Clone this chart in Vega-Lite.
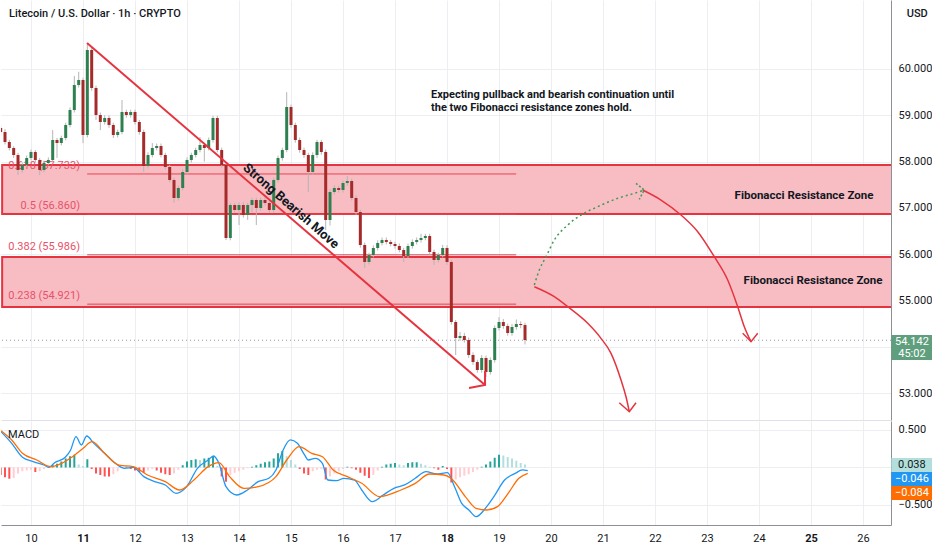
{
  "$schema": "https://vega.github.io/schema/vega-lite/v6.json",
  "padding": 0,
  "background": "#ffffff",
  "spacing": 1,
  "config": {
    "view": {"stroke": null},
    "font": "Roboto",
    "axis": {"labelFont": "Roboto", "labelFontSize": 11, "labelColor": "#131722", "gridColor": "#eceef2", "ticks": false, "titleFont": "Roboto"}
  },
  "datasets": {
    "candles": [
      {"t":9.417,"o":58.725,"h":58.78,"l":58.58,"c":58.639,"m":-0.10,"mc":"r"},
      {"t":9.5,"o":58.639,"h":58.70,"l":58.37,"c":58.423,"m":-0.13,"mc":"r"},
      {"t":9.583,"o":58.423,"h":58.47,"l":58.24,"c":58.293,"m":-0.15,"mc":"r"},
      {"t":9.667,"o":58.293,"h":58.33,"l":58.08,"c":58.142,"m":-0.14,"mc":"lr"},
      {"t":9.75,"o":58.142,"h":58.19,"l":57.71,"c":57.818,"m":-0.08,"mc":"lr"},
      {"t":9.833,"o":57.818,"h":57.98,"l":57.76,"c":57.926,"m":-0.05,"mc":"lr"},
      {"t":9.917,"o":57.926,"h":58.13,"l":57.88,"c":58.077,"m":-0.04,"mc":"lr"},
      {"t":10,"o":58.077,"h":58.26,"l":58.03,"c":58.207,"m":-0.03,"mc":"lr"},
      {"t":10.083,"o":58.207,"h":58.25,"l":57.98,"c":58.034,"m":-0.06,"mc":"r"},
      {"t":10.167,"o":58.034,"h":58.08,"l":57.71,"c":57.818,"m":-0.05,"mc":"lr"},
      {"t":10.25,"o":57.818,"h":58.02,"l":57.77,"c":57.970,"m":-0.02,"mc":"lr"},
      {"t":10.333,"o":57.970,"h":58.09,"l":57.92,"c":58.034,"m":0.01,"mc":"g"},
      {"t":10.417,"o":58.034,"h":58.68,"l":57.99,"c":58.466,"m":0.03,"mc":"g"},
      {"t":10.5,"o":58.466,"h":58.51,"l":58.08,"c":58.401,"m":0.05,"mc":"g"},
      {"t":10.583,"o":58.401,"h":58.56,"l":58.35,"c":58.510,"m":0.08,"mc":"g"},
      {"t":10.667,"o":58.510,"h":58.84,"l":58.46,"c":58.790,"m":0.12,"mc":"g"},
      {"t":10.75,"o":58.790,"h":59.17,"l":58.74,"c":59.114,"m":0.15,"mc":"g"},
      {"t":10.833,"o":59.114,"h":59.85,"l":59.06,"c":59.654,"m":0.17,"mc":"g"},
      {"t":10.917,"o":59.654,"h":59.94,"l":59.60,"c":59.762,"m":0.04,"mc":"lg"},
      {"t":11,"o":59.762,"h":59.81,"l":58.40,"c":58.574,"m":0.02,"mc":"lg"},
      {"t":11.083,"o":58.574,"h":60.56,"l":58.52,"c":60.410,"m":0.11,"mc":"g"},
      {"t":11.167,"o":60.410,"h":60.45,"l":59.53,"c":59.589,"m":-0.02,"mc":"r"},
      {"t":11.25,"o":59.589,"h":59.64,"l":58.90,"c":59.006,"m":-0.08,"mc":"r"},
      {"t":11.333,"o":59.006,"h":59.06,"l":58.68,"c":58.855,"m":-0.10,"mc":"r"},
      {"t":11.417,"o":58.855,"h":59.00,"l":58.80,"c":58.941,"m":-0.12,"mc":"r"},
      {"t":11.5,"o":58.941,"h":59.00,"l":58.73,"c":58.790,"m":-0.12,"mc":"r"},
      {"t":11.583,"o":58.790,"h":58.84,"l":58.51,"c":58.574,"m":-0.09,"mc":"lr"},
      {"t":11.667,"o":58.574,"h":58.69,"l":58.52,"c":58.639,"m":-0.05,"mc":"lr"},
      {"t":11.75,"o":58.639,"h":59.33,"l":58.59,"c":59.071,"m":-0.01,"mc":"lr"},
      {"t":11.833,"o":59.071,"h":59.12,"l":58.95,"c":59.006,"m":0.01,"mc":"g"},
      {"t":11.917,"o":59.006,"h":59.12,"l":58.95,"c":59.071,"m":-0.02,"mc":"r"},
      {"t":12,"o":59.071,"h":59.12,"l":58.80,"c":58.855,"m":-0.04,"mc":"r"},
      {"t":12.083,"o":58.855,"h":58.90,"l":58.58,"c":58.639,"m":-0.06,"mc":"r"},
      {"t":12.167,"o":58.639,"h":58.69,"l":57.78,"c":57.905,"m":-0.07,"mc":"r"},
      {"t":12.25,"o":57.905,"h":58.20,"l":57.85,"c":58.142,"m":-0.04,"mc":"lr"},
      {"t":12.333,"o":58.142,"h":58.40,"l":58.09,"c":58.293,"m":-0.02,"mc":"lr"},
      {"t":12.417,"o":58.293,"h":58.39,"l":58.24,"c":58.337,"m":-0.04,"mc":"r"},
      {"t":12.5,"o":58.337,"h":58.39,"l":58.09,"c":58.142,"m":-0.07,"mc":"r"},
      {"t":12.583,"o":58.142,"h":58.19,"l":57.83,"c":57.883,"m":-0.09,"mc":"r"},
      {"t":12.667,"o":57.883,"h":57.93,"l":57.55,"c":57.602,"m":-0.10,"mc":"r"},
      {"t":12.75,"o":57.602,"h":57.65,"l":57.11,"c":57.214,"m":-0.08,"mc":"lr"},
      {"t":12.833,"o":57.214,"h":57.48,"l":57.16,"c":57.430,"m":-0.03,"mc":"lr"},
      {"t":12.917,"o":57.430,"h":57.83,"l":57.38,"c":57.775,"m":0.03,"mc":"g"},
      {"t":13,"o":57.775,"h":58.09,"l":57.72,"c":58.034,"m":0.08,"mc":"g"},
      {"t":13.083,"o":58.034,"h":58.19,"l":57.98,"c":58.142,"m":0.10,"mc":"g"},
      {"t":13.167,"o":58.142,"h":58.30,"l":58.09,"c":58.250,"m":0.11,"mc":"g"},
      {"t":13.25,"o":58.250,"h":58.53,"l":58.20,"c":58.358,"m":0.10,"mc":"lg"},
      {"t":13.333,"o":58.358,"h":58.41,"l":58.00,"c":58.293,"m":0.12,"mc":"g"},
      {"t":13.417,"o":58.293,"h":58.52,"l":58.24,"c":58.466,"m":0.13,"mc":"g"},
      {"t":13.5,"o":58.466,"h":58.99,"l":58.41,"c":58.941,"m":0.15,"mc":"g"},
      {"t":13.583,"o":58.941,"h":58.99,"l":58.20,"c":58.250,"m":0.02,"mc":"lg"},
      {"t":13.667,"o":58.250,"h":58.30,"l":57.87,"c":57.926,"m":-0.12,"mc":"r"},
      {"t":13.75,"o":57.926,"h":57.98,"l":56.306,"c":56.350,"m":-0.19,"mc":"r"},
      {"t":13.833,"o":56.350,"h":57.11,"l":56.30,"c":57.062,"m":-0.10,"mc":"lr"},
      {"t":13.917,"o":57.062,"h":57.11,"l":56.90,"c":56.954,"m":-0.07,"mc":"lr"},
      {"t":14,"o":56.954,"h":57.12,"l":56.63,"c":57.062,"m":-0.05,"mc":"lr"},
      {"t":14.083,"o":57.062,"h":57.12,"l":56.79,"c":56.846,"m":-0.03,"mc":"lr"},
      {"t":14.167,"o":56.846,"h":57.11,"l":56.74,"c":57.062,"m":-0.01,"mc":"lr"},
      {"t":14.25,"o":57.062,"h":57.22,"l":56.90,"c":57.170,"m":0.01,"mc":"g"},
      {"t":14.333,"o":57.170,"h":57.22,"l":56.63,"c":56.998,"m":0.03,"mc":"g"},
      {"t":14.417,"o":56.998,"h":57.22,"l":56.94,"c":57.170,"m":0.05,"mc":"g"},
      {"t":14.5,"o":57.170,"h":57.28,"l":57.05,"c":57.106,"m":0.07,"mc":"g"},
      {"t":14.583,"o":57.106,"h":57.16,"l":56.89,"c":56.954,"m":0.08,"mc":"g"},
      {"t":14.667,"o":56.954,"h":57.65,"l":56.90,"c":57.602,"m":0.12,"mc":"g"},
      {"t":14.75,"o":57.602,"h":58.13,"l":57.55,"c":58.077,"m":0.19,"mc":"g"},
      {"t":14.833,"o":58.077,"h":58.30,"l":58.02,"c":58.250,"m":0.22,"mc":"g"},
      {"t":14.917,"o":58.250,"h":59.50,"l":58.20,"c":59.179,"m":0.15,"mc":"lg"},
      {"t":15,"o":59.179,"h":59.23,"l":58.73,"c":58.790,"m":0.10,"mc":"lg"},
      {"t":15.083,"o":58.790,"h":58.84,"l":58.41,"c":58.466,"m":0.04,"mc":"lg"},
      {"t":15.167,"o":58.466,"h":58.52,"l":58.19,"c":58.250,"m":-0.02,"mc":"r"},
      {"t":15.25,"o":58.250,"h":58.30,"l":58.08,"c":58.142,"m":-0.08,"mc":"r"},
      {"t":15.333,"o":58.142,"h":58.19,"l":57.34,"c":57.775,"m":-0.10,"mc":"r"},
      {"t":15.417,"o":57.775,"h":58.20,"l":57.72,"c":58.142,"m":-0.05,"mc":"lr"},
      {"t":15.5,"o":58.142,"h":58.47,"l":58.08,"c":58.423,"m":-0.03,"mc":"lr"},
      {"t":15.583,"o":58.423,"h":58.47,"l":58.15,"c":58.207,"m":-0.02,"mc":"lr"},
      {"t":15.667,"o":58.207,"h":58.26,"l":56.52,"c":56.738,"m":-0.16,"mc":"r"},
      {"t":15.75,"o":56.738,"h":57.40,"l":56.62,"c":57.343,"m":-0.12,"mc":"lr"},
      {"t":15.833,"o":57.343,"h":57.49,"l":57.29,"c":57.430,"m":-0.08,"mc":"lr"},
      {"t":15.917,"o":57.430,"h":57.48,"l":57.33,"c":57.386,"m":-0.05,"mc":"lr"},
      {"t":16,"o":57.386,"h":57.59,"l":57.33,"c":57.538,"m":-0.02,"mc":"lr"},
      {"t":16.083,"o":57.538,"h":57.69,"l":57.48,"c":57.581,"m":0.01,"mc":"g"},
      {"t":16.167,"o":57.581,"h":57.63,"l":57.16,"c":57.214,"m":-0.01,"mc":"r"},
      {"t":16.25,"o":57.214,"h":57.27,"l":56.85,"c":56.911,"m":-0.03,"mc":"r"},
      {"t":16.333,"o":56.911,"h":56.96,"l":56.14,"c":56.198,"m":-0.07,"mc":"r"},
      {"t":16.417,"o":56.198,"h":56.25,"l":55.702,"c":55.831,"m":-0.11,"mc":"r"},
      {"t":16.5,"o":55.831,"h":56.03,"l":55.78,"c":55.982,"m":-0.14,"mc":"r"},
      {"t":16.583,"o":55.982,"h":56.19,"l":55.93,"c":56.134,"m":-0.10,"mc":"lr"},
      {"t":16.667,"o":56.134,"h":56.30,"l":56.08,"c":56.242,"m":-0.04,"mc":"lr"},
      {"t":16.75,"o":56.242,"h":56.36,"l":56.19,"c":56.306,"m":0.01,"mc":"g"},
      {"t":16.833,"o":56.306,"h":56.36,"l":56.21,"c":56.263,"m":0.04,"mc":"g"},
      {"t":16.917,"o":56.263,"h":56.31,"l":56.17,"c":56.220,"m":0.05,"mc":"g"},
      {"t":17,"o":56.220,"h":56.27,"l":56.12,"c":56.177,"m":0.06,"mc":"g"},
      {"t":17.083,"o":56.177,"h":56.23,"l":56.04,"c":56.090,"m":0.04,"mc":"lg"},
      {"t":17.167,"o":56.090,"h":56.14,"l":55.83,"c":55.961,"m":0.03,"mc":"lg"},
      {"t":17.25,"o":55.961,"h":56.23,"l":55.91,"c":56.177,"m":0.06,"mc":"g"},
      {"t":17.333,"o":56.177,"h":56.32,"l":56.12,"c":56.263,"m":0.07,"mc":"g"},
      {"t":17.417,"o":56.263,"h":56.36,"l":56.21,"c":56.306,"m":0.07,"mc":"g"},
      {"t":17.5,"o":56.306,"h":56.44,"l":56.25,"c":56.350,"m":0.05,"mc":"lg"},
      {"t":17.583,"o":56.350,"h":56.44,"l":56.30,"c":56.393,"m":0.03,"mc":"lg"},
      {"t":17.667,"o":56.393,"h":56.44,"l":55.99,"c":56.047,"m":0.01,"mc":"lg"},
      {"t":17.75,"o":56.047,"h":56.10,"l":55.766,"c":55.874,"m":-0.01,"mc":"r"},
      {"t":17.833,"o":55.874,"h":56.03,"l":55.82,"c":55.982,"m":-0.03,"mc":"r"},
      {"t":17.917,"o":55.982,"h":56.20,"l":55.93,"c":56.134,"m":0.02,"mc":"g"},
      {"t":18,"o":56.134,"h":56.19,"l":55.77,"c":55.831,"m":-0.02,"mc":"r"},
      {"t":18.083,"o":55.831,"h":55.88,"l":54.48,"c":54.535,"m":-0.20,"mc":"r"},
      {"t":18.167,"o":54.535,"h":54.58,"l":53.823,"c":54.190,"m":-0.16,"mc":"lr"},
      {"t":18.25,"o":54.190,"h":54.32,"l":54.13,"c":54.233,"m":-0.13,"mc":"lr"},
      {"t":18.333,"o":54.233,"h":54.30,"l":54.09,"c":54.146,"m":-0.11,"mc":"lr"},
      {"t":18.417,"o":54.146,"h":54.20,"l":53.76,"c":53.823,"m":-0.09,"mc":"lr"},
      {"t":18.5,"o":53.823,"h":53.88,"l":53.61,"c":53.671,"m":-0.06,"mc":"lr"},
      {"t":18.583,"o":53.671,"h":53.72,"l":53.44,"c":53.499,"m":-0.03,"mc":"lr"},
      {"t":18.667,"o":53.499,"h":53.82,"l":53.44,"c":53.758,"m":0.01,"mc":"g"},
      {"t":18.75,"o":53.758,"h":53.81,"l":53.348,"c":53.456,"m":0.04,"mc":"g"},
      {"t":18.833,"o":53.456,"h":53.77,"l":53.40,"c":53.714,"m":0.08,"mc":"g"},
      {"t":18.917,"o":53.714,"h":54.46,"l":53.66,"c":54.406,"m":0.13,"mc":"g"},
      {"t":19,"o":54.406,"h":54.64,"l":54.35,"c":54.535,"m":0.17,"mc":"g"},
      {"t":19.083,"o":54.535,"h":54.60,"l":54.39,"c":54.449,"m":0.16,"mc":"lg"},
      {"t":19.167,"o":54.449,"h":54.50,"l":54.24,"c":54.298,"m":0.14,"mc":"lg"},
      {"t":19.25,"o":54.298,"h":54.49,"l":54.24,"c":54.427,"m":0.12,"mc":"lg"},
      {"t":19.333,"o":54.427,"h":54.59,"l":54.37,"c":54.492,"m":0.09,"mc":"lg"},
      {"t":19.417,"o":54.492,"h":54.55,"l":54.40,"c":54.470,"m":0.06,"mc":"lg"},
      {"t":19.5,"o":54.470,"h":54.52,"l":54.05,"c":54.146,"m":0.04,"mc":"lg"}
    ],
    "macd": [
      {"s":"m","t":9.423,"v":0.478},{"s":"m","t":9.629,"v":0.322},{"s":"m","t":9.835,"v":0.136},{"s":"m","t":10.041,"v":0.078},
      {"s":"m","t":10.247,"v":0.033},{"s":"m","t":10.350,"v":0.002},{"s":"m","t":10.453,"v":0.064},{"s":"m","t":10.659,"v":0.136},
      {"s":"m","t":10.762,"v":0.233},{"s":"m","t":10.865,"v":0.411},{"s":"m","t":10.968,"v":0.300},{"s":"m","t":11.071,"v":0.420},
      {"s":"m","t":11.209,"v":0.322},{"s":"m","t":11.415,"v":0.189},{"s":"m","t":11.621,"v":0.056},{"s":"m","t":11.793,"v":-0.011},
      {"s":"m","t":11.964,"v":0.002},{"s":"m","t":12.170,"v":-0.122},{"s":"m","t":12.376,"v":-0.189},{"s":"m","t":12.582,"v":-0.233},
      {"s":"m","t":12.789,"v":-0.344},{"s":"m","t":12.994,"v":-0.256},{"s":"m","t":13.200,"v":-0.011},{"s":"m","t":13.407,"v":0.100},
      {"s":"m","t":13.510,"v":0.153},{"s":"m","t":13.613,"v":0.056},{"s":"m","t":13.750,"v":-0.256},{"s":"m","t":13.956,"v":-0.367},
      {"s":"m","t":14.162,"v":-0.300},{"s":"m","t":14.368,"v":-0.189},{"s":"m","t":14.574,"v":-0.144},{"s":"m","t":14.711,"v":-0.033},
      {"s":"m","t":14.849,"v":0.233},{"s":"m","t":14.986,"v":0.367},{"s":"m","t":15.124,"v":0.322},{"s":"m","t":15.261,"v":0.167},
      {"s":"m","t":15.330,"v":0.100},{"s":"m","t":15.467,"v":0.122},{"s":"m","t":15.604,"v":0.056},{"s":"m","t":15.707,"v":-0.167},
      {"s":"m","t":15.879,"v":-0.176},{"s":"m","t":16.016,"v":-0.144},{"s":"m","t":16.222,"v":-0.167},{"s":"m","t":16.360,"v":-0.300},
      {"s":"m","t":16.566,"v":-0.456},{"s":"m","t":16.772,"v":-0.367},{"s":"m","t":16.978,"v":-0.278},{"s":"m","t":17.184,"v":-0.233},
      {"s":"m","t":17.390,"v":-0.144},{"s":"m","t":17.596,"v":-0.056},{"s":"m","t":17.802,"v":-0.087},{"s":"m","t":18.008,"v":-0.069},
      {"s":"m","t":18.145,"v":-0.256},{"s":"m","t":18.283,"v":-0.478},{"s":"m","t":18.420,"v":-0.567},{"s":"m","t":18.558,"v":-0.656},
      {"s":"m","t":18.764,"v":-0.522},{"s":"m","t":18.901,"v":-0.389},{"s":"m","t":19.107,"v":-0.167},{"s":"m","t":19.313,"v":-0.078},
      {"s":"m","t":19.450,"v":-0.033},{"s":"m","t":19.553,"v":-0.042},
      {"s":"s","t":9.423,"v":0.491},{"s":"s","t":9.629,"v":0.367},{"s":"s","t":9.835,"v":0.189},{"s":"s","t":10.110,"v":0.100},
      {"s":"s","t":10.385,"v":0.011},{"s":"s","t":10.591,"v":0.056},{"s":"s","t":10.797,"v":0.144},{"s":"s","t":11.003,"v":0.256},
      {"s":"s","t":11.174,"v":0.344},{"s":"s","t":11.415,"v":0.189},{"s":"s","t":11.690,"v":0.033},{"s":"s","t":11.964,"v":0.011},
      {"s":"s","t":12.239,"v":-0.100},{"s":"s","t":12.582,"v":-0.189},{"s":"s","t":12.857,"v":-0.300},{"s":"s","t":13.132,"v":-0.167},
      {"s":"s","t":13.407,"v":0.011},{"s":"s","t":13.613,"v":0.064},{"s":"s","t":13.819,"v":-0.122},{"s":"s","t":14.093,"v":-0.278},
      {"s":"s","t":14.368,"v":-0.256},{"s":"s","t":14.711,"v":-0.122},{"s":"s","t":14.917,"v":0.100},{"s":"s","t":15.158,"v":0.278},
      {"s":"s","t":15.398,"v":0.189},{"s":"s","t":15.604,"v":0.144},{"s":"s","t":15.810,"v":-0.033},{"s":"s","t":16.085,"v":-0.122},
      {"s":"s","t":16.360,"v":-0.211},{"s":"s","t":16.703,"v":-0.389},{"s":"s","t":17.115,"v":-0.300},{"s":"s","t":17.390,"v":-0.211},
      {"s":"s","t":17.665,"v":-0.087},{"s":"s","t":17.940,"v":-0.100},{"s":"s","t":18.077,"v":-0.144},{"s":"s","t":18.352,"v":-0.389},
      {"s":"s","t":18.558,"v":-0.544},{"s":"s","t":18.764,"v":-0.567},{"s":"s","t":18.970,"v":-0.522},{"s":"s","t":19.176,"v":-0.344},
      {"s":"s","t":19.382,"v":-0.144},{"s":"s","t":19.553,"v":-0.078}
    ],
    "zones": [
      {"p1":56.868,"p2":57.926},
      {"p1":54.859,"p2":55.940}
    ],
    "fib": [
      {"lab":"0.618 (57.733)","p":57.733,"t1":11.08,"t2":19.33},
      {"lab":"0.5 (56.860)","p":56.860,"t1":11.08,"t2":19.33},
      {"lab":"0.382 (55.986)","p":55.986,"t1":11.08,"t2":19.33},
      {"lab":"0.238 (54.921)","p":54.921,"t1":11.08,"t2":19.33}
    ],
    "ann": [
      {"g":"d","i":0,"t":11.077,"p":60.561},{"g":"d","i":1,"t":18.731,"p":53.175},
      {"g":"dh","i":0,"t":18.423,"p":53.110},{"g":"dh","i":1,"t":18.731,"p":53.175},{"g":"dh","i":2,"t":18.731,"p":53.477},
      {"g":"r1","i":0,"t":19.679,"p":55.298},{"g":"r1","i":1,"t":20.064,"p":55.082},{"g":"r1","i":2,"t":20.321,"p":54.866},
      {"g":"r1","i":3,"t":20.706,"p":54.507},{"g":"r1","i":4,"t":20.961,"p":54.183},{"g":"r1","i":5,"t":21.154,"p":53.859},
      {"g":"r1","i":6,"t":21.346,"p":53.283},{"g":"r1","i":7,"t":21.442,"p":52.922},{"g":"r1","i":8,"t":21.506,"p":52.598},
      {"g":"r1h","i":0,"t":21.313,"p":52.792},{"g":"r1h","i":1,"t":21.506,"p":52.598},{"g":"r1h","i":2,"t":21.634,"p":52.792},
      {"g":"r2","i":0,"t":21.763,"p":57.386},{"g":"r2","i":1,"t":22.115,"p":57.170},{"g":"r2","i":2,"t":22.500,"p":56.846},
      {"g":"r2","i":3,"t":22.821,"p":56.486},{"g":"r2","i":4,"t":23.140,"p":55.946},{"g":"r2","i":5,"t":23.398,"p":55.443},
      {"g":"r2","i":6,"t":23.590,"p":54.866},{"g":"r2","i":7,"t":23.717,"p":54.434},{"g":"r2","i":8,"t":23.846,"p":54.110},
      {"g":"r2h","i":0,"t":23.686,"p":54.291},{"g":"r2h","i":1,"t":23.846,"p":54.110},{"g":"r2h","i":2,"t":23.975,"p":54.291},
      {"g":"gc","i":0,"t":19.679,"p":55.334},{"g":"gc","i":1,"t":19.775,"p":55.658},{"g":"gc","i":2,"t":19.904,"p":55.946},
      {"g":"gc","i":3,"t":20.064,"p":56.306},{"g":"gc","i":4,"t":20.321,"p":56.630},{"g":"gc","i":5,"t":20.577,"p":56.846},
      {"g":"gc","i":6,"t":20.898,"p":57.026},{"g":"gc","i":7,"t":21.283,"p":57.207},{"g":"gc","i":8,"t":21.602,"p":57.315},
      {"g":"gc","i":9,"t":21.794,"p":57.386},
      {"g":"gh","i":0,"t":21.634,"p":57.531},{"g":"gh","i":1,"t":21.794,"p":57.386},{"g":"gh","i":2,"t":21.698,"p":57.185}
    ]
  },
  "vconcat": [
    {
      "width": 890,
      "height": 420,
      "layer": [
        {
          "data": {"name": "zones"},
          "mark": {"type": "rect", "fill": "#f8bdc3", "stroke": "#e5343f", "strokeWidth": 2, "clip": true},
          "encoding": {
            "x": {"datum": 9.445, "type": "quantitative",
              "scale": {"domain": [9.423, 26.538], "nice": false, "zero": false, "padding": 0},
              "axis": {"labels": false, "ticks": false, "domain": true, "domainColor": "#dfe2e8", "grid": true,
                "values": [10,11,12,13,14,15,16,17,18,19,20,21,22,23,24,25,26], "title": null}},
            "x2": {"datum": 27.5},
            "y": {"field": "p1", "type": "quantitative",
              "scale": {"domain": [52.419, 61.49], "nice": false, "zero": false, "padding": 0},
              "axis": {"orient": "right", "values": [53,54,55,56,57,58,59,60],
                "labelExpr": "datum.value == 54 ? '' : format(datum.value, '.3f')",
                "grid": true, "domain": true, "domainColor": "#8c8f96", "labelPadding": 7, "title": null}},
            "y2": {"field": "p2"}
          }
        },
        {
          "data": {"name": "fib"},
          "mark": {"type": "rule", "color": "#e8404f", "strokeWidth": 1},
          "encoding": {
            "x": {"field": "t1", "type": "quantitative"},
            "x2": {"field": "t2"},
            "y": {"field": "p", "type": "quantitative", "title": null}
          }
        },
        {
          "data": {"name": "fib"},
          "mark": {"type": "text", "align": "right", "baseline": "bottom", "dy": -3, "fontSize": 11, "color": "#e8516a"},
          "encoding": {
            "x": {"datum": 10.942, "type": "quantitative"},
            "y": {"field": "p", "type": "quantitative", "title": null},
            "text": {"field": "lab"}
          }
        },
        {
          "data": {"values": [{"p": 54.142}]},
          "mark": {"type": "rule", "color": "#9598a1", "strokeDash": [1, 3], "strokeWidth": 1},
          "encoding": {
            "y": {"field": "p", "type": "quantitative", "title": null}
          }
        },
        {
          "data": {"name": "candles"},
          "mark": {"type": "rule", "color": "#b5b5b5", "strokeWidth": 1, "clip": true},
          "encoding": {
            "x": {"field": "t", "type": "quantitative"},
            "y": {"field": "l", "type": "quantitative", "title": null},
            "y2": {"field": "h"}
          }
        },
        {
          "data": {"name": "candles"},
          "mark": {"type": "bar", "size": 3, "clip": true},
          "encoding": {
            "x": {"field": "t", "type": "quantitative"},
            "y": {"field": "o", "type": "quantitative", "title": null},
            "y2": {"field": "c"},
            "color": {"condition": {"test": "datum.c >= datum.o", "value": "#2f8050"}, "value": "#a52a2a"}
          }
        },
        {
          "data": {"name": "ann"},
          "transform": [{"filter": "datum.g == 'd' || datum.g == 'dh'"}],
          "mark": {"type": "line", "color": "#e5343f", "strokeWidth": 2},
          "encoding": {
            "x": {"field": "t", "type": "quantitative"},
            "y": {"field": "p", "type": "quantitative", "title": null},
            "detail": {"field": "g"},
            "order": {"field": "i"}
          }
        },
        {
          "data": {"name": "ann"},
          "transform": [{"filter": "datum.g == 'r1' || datum.g == 'r2'"}],
          "mark": {"type": "line", "color": "#e5343f", "strokeWidth": 1.5, "interpolate": "monotone"},
          "encoding": {
            "x": {"field": "t", "type": "quantitative"},
            "y": {"field": "p", "type": "quantitative", "title": null},
            "detail": {"field": "g"},
            "order": {"field": "i"}
          }
        },
        {
          "data": {"name": "ann"},
          "transform": [{"filter": "datum.g == 'r1h' || datum.g == 'r2h'"}],
          "mark": {"type": "line", "color": "#e5343f", "strokeWidth": 1.5},
          "encoding": {
            "x": {"field": "t", "type": "quantitative"},
            "y": {"field": "p", "type": "quantitative", "title": null},
            "detail": {"field": "g"},
            "order": {"field": "i"}
          }
        },
        {
          "data": {"name": "ann"},
          "transform": [{"filter": "datum.g == 'gc'"}],
          "mark": {"type": "line", "color": "#3f9a55", "strokeWidth": 1.5, "strokeDash": [2, 3], "interpolate": "monotone"},
          "encoding": {
            "x": {"field": "t", "type": "quantitative"},
            "y": {"field": "p", "type": "quantitative", "title": null},
            "order": {"field": "i"}
          }
        },
        {
          "data": {"name": "ann"},
          "transform": [{"filter": "datum.g == 'gh'"}],
          "mark": {"type": "line", "color": "#3f9a55", "strokeWidth": 1.5, "strokeDash": [2, 2]},
          "encoding": {
            "x": {"field": "t", "type": "quantitative"},
            "y": {"field": "p", "type": "quantitative", "title": null},
            "order": {"field": "i"}
          }
        },
        {
          "data": {"values": [{"lab": "Strong Bearish Move"}]},
          "mark": {"type": "text", "angle": 41, "fontSize": 13, "fontWeight": "bold", "color": "#131722", "align": "center", "baseline": "middle"},
          "encoding": {
            "x": {"datum": 15.0, "type": "quantitative"},
            "y": {"datum": 57.041, "type": "quantitative"},
            "text": {"field": "lab"}
          }
        },
        {
          "data": {"values": [
            {"lab": "Expecting pullback and bearish continuation until", "p": 59.438},
            {"lab": "the two Fibonacci resistance zones hold.", "p": 59.157}
          ]},
          "mark": {"type": "text", "fontSize": 11, "fontWeight": "bold", "color": "#131722", "align": "left", "baseline": "middle"},
          "encoding": {
            "x": {"datum": 17.692, "type": "quantitative"},
            "y": {"field": "p", "type": "quantitative", "title": null},
            "text": {"field": "lab"}
          }
        },
        {
          "data": {"values": [
            {"lab": "Fibonacci Resistance Zone", "t": 24.865, "p": 57.257},
            {"lab": "Fibonacci Resistance Zone", "t": 25.038, "p": 55.421}
          ]},
          "mark": {"type": "text", "fontSize": 11.5, "fontWeight": "bold", "color": "#131722", "align": "center", "baseline": "middle"},
          "encoding": {
            "x": {"field": "t", "type": "quantitative"},
            "y": {"field": "p", "type": "quantitative", "title": null},
            "text": {"field": "lab"}
          }
        },
        {
          "data": {"values": [{"lab": "Litecoin / U.S. Dollar · 1h · CRYPTO", "t": 9.577}, {"lab": "USD", "t": 26.84}]},
          "mark": {"type": "text", "fontSize": 11, "fontWeight": 500, "color": "#131722", "align": "left", "baseline": "middle"},
          "encoding": {
            "x": {"field": "t", "type": "quantitative"},
            "y": {"datum": 61.188, "type": "quantitative"},
            "text": {"field": "lab"}
          }
        },
        {
          "data": {"values": [{"p1": 54.255, "p2": 53.714}]},
          "mark": {"type": "rect", "fill": "#5f9f7e"},
          "encoding": {
            "x": {"datum": 26.545, "type": "quantitative"},
            "x2": {"datum": 27.33},
            "y": {"field": "p1", "type": "quantitative", "title": null},
            "y2": {"field": "p2"}
          }
        },
        {
          "data": {"values": [{"lab": "54.142", "p": 54.105}, {"lab": "45:02", "p": 53.845}]},
          "mark": {"type": "text", "fontSize": 11, "color": "#ffffff", "align": "center", "baseline": "middle"},
          "encoding": {
            "x": {"datum": 26.94, "type": "quantitative"},
            "y": {"field": "p", "type": "quantitative", "title": null},
            "text": {"field": "lab"}
          }
        }
      ]
    },
    {
      "width": 890,
      "height": 104,
      "layer": [
        {
          "data": {"name": "candles"},
          "mark": {"type": "bar", "size": 2, "clip": true},
          "encoding": {
            "x": {"field": "t", "type": "quantitative",
              "scale": {"domain": [9.423, 26.538], "nice": false, "zero": false, "padding": 0},
              "axis": {"values": [10,11,12,13,14,15,16,17,18,19,20,21,22,23,24,25,26], "format": "d", "title": null,
                "grid": true, "ticks": false, "domain": true, "domainColor": "#8c8f96", "labelPadding": 7,
                "labelFontWeight": {"condition": {"test": "datum.value == 11 || datum.value == 18 || datum.value == 25", "value": "bold"}, "value": "normal"}}},
            "y": {"field": "m", "type": "quantitative",
              "scale": {"domain": [-0.767, 0.62], "nice": false, "zero": false, "padding": 0},
              "axis": {"orient": "right", "values": [-0.5, 0, 0.5],
                "labelExpr": "datum.value == 0 ? '' : format(datum.value, '.3f')",
                "grid": true, "domain": true, "domainColor": "#8c8f96", "labelPadding": 7, "title": null}},
            "y2": {"datum": 0},
            "color": {"field": "mc", "type": "nominal",
              "scale": {"domain": ["g", "lg", "r", "lr"], "range": ["#26a69a", "#b2dfdb", "#ff5252", "#ffcdd2"]},
              "legend": null}
          }
        },
        {
          "data": {"name": "macd"},
          "transform": [{"filter": "datum.s == 'm'"}],
          "mark": {"type": "line", "color": "#2196f3", "strokeWidth": 1.3, "interpolate": "monotone", "clip": true},
          "encoding": {
            "x": {"field": "t", "type": "quantitative"},
            "y": {"field": "v", "type": "quantitative", "title": null}
          }
        },
        {
          "data": {"name": "macd"},
          "transform": [{"filter": "datum.s == 's'"}],
          "mark": {"type": "line", "color": "#ff6d00", "strokeWidth": 1.3, "interpolate": "monotone", "clip": true},
          "encoding": {
            "x": {"field": "t", "type": "quantitative"},
            "y": {"field": "v", "type": "quantitative", "title": null}
          }
        },
        {
          "data": {"values": [{"lab": "MACD"}]},
          "mark": {"type": "text", "fontSize": 11, "color": "#131722", "align": "left", "baseline": "middle"},
          "encoding": {
            "x": {"datum": 9.56, "type": "quantitative"},
            "y": {"datum": 0.433, "type": "quantitative"},
            "text": {"field": "lab"}
          }
        },
        {
          "data": {"values": [
            {"k": "h", "v1": 0.127, "v2": -0.06},
            {"k": "m", "v1": -0.06, "v2": -0.247},
            {"k": "s", "v1": -0.247, "v2": -0.433}
          ]},
          "mark": {"type": "rect"},
          "encoding": {
            "x": {"datum": 26.545, "type": "quantitative"},
            "x2": {"datum": 27.33},
            "y": {"field": "v1", "type": "quantitative", "title": null},
            "y2": {"field": "v2"},
            "fill": {"field": "k", "type": "nominal", "scale": {"domain": ["h", "m", "s"], "range": ["#b2dfdb", "#2196f3", "#ff6d00"]}, "legend": null}
          }
        },
        {
          "data": {"values": [
            {"k": "h", "lab": "0.038", "v": 0.033},
            {"k": "m", "lab": "−0.046", "v": -0.153},
            {"k": "s", "lab": "−0.084", "v": -0.34}
          ]},
          "mark": {"type": "text", "fontSize": 11, "align": "center", "baseline": "middle"},
          "encoding": {
            "x": {"datum": 26.94, "type": "quantitative"},
            "y": {"field": "v", "type": "quantitative", "title": null},
            "text": {"field": "lab"},
            "color": {"condition": {"test": "datum.k == 'h'", "value": "#131722"}, "value": "#ffffff"}
          }
        }
      ]
    }
  ]
}
